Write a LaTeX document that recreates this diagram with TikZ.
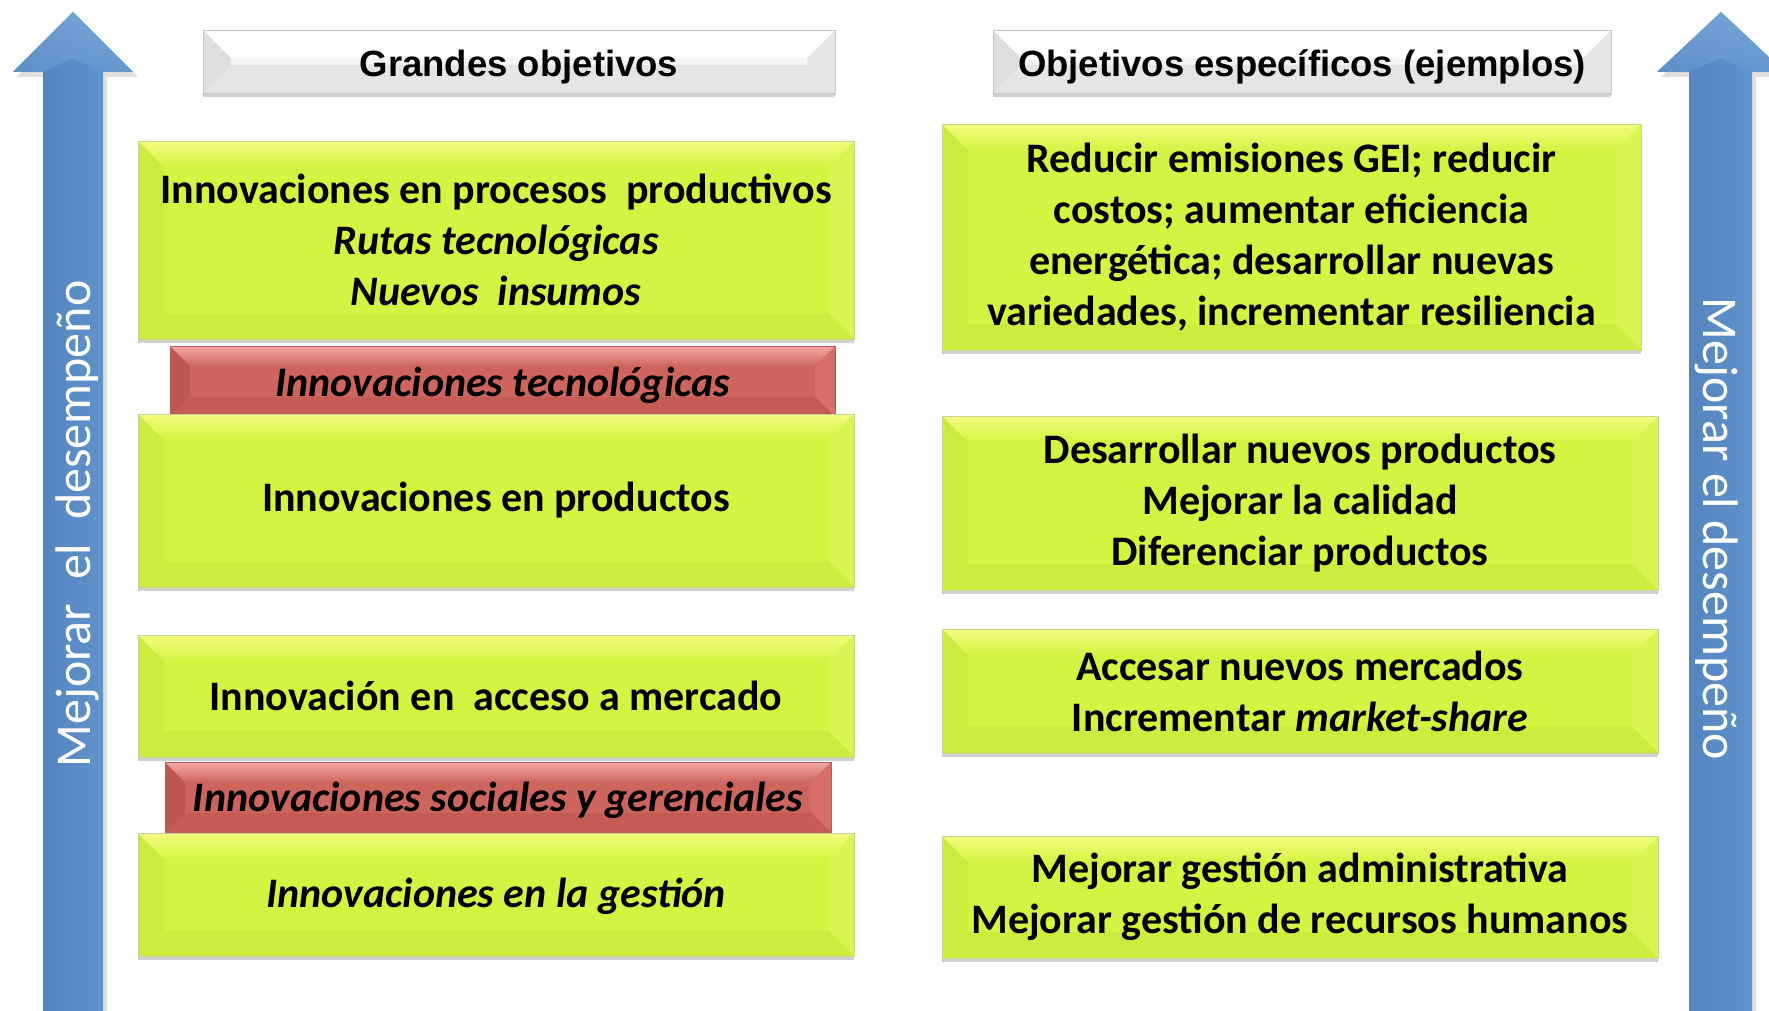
\documentclass[tikz,border=0pt]{standalone}
\usepackage{fontspec}
\setmainfont{Carlito}
\newfontfamily\hdrfont{Liberation Sans}
\usetikzlibrary{shadows}
\definecolor{limeg}{HTML}{D3F443}
\definecolor{limetop}{HTML}{F6FB80}
\definecolor{limeleft}{HTML}{CBEC3E}
\definecolor{limeright}{HTML}{D9F552}
\definecolor{limebot}{HTML}{CCEC3F}
\definecolor{redb}{HTML}{CD645E}
\definecolor{redtop}{HTML}{F7AAA4}
\definecolor{redleft}{HTML}{BC5751}
\definecolor{redright}{HTML}{D66E68}
\definecolor{redbot}{HTML}{C45C56}
\definecolor{arrowdark}{HTML}{4F7EB7}
\definecolor{arrowlight}{HTML}{6699D1}
\definecolor{arrowhi}{HTML}{86B2E0}
\newcommand\ppb{path picture bounding box}
\newcommand\bevelfill[6]{%
  \fill[#3] (\ppb.north west) -- ([xshift=#1,yshift=-#1]\ppb.north west) -- ([xshift=#1,yshift=#1]\ppb.south west) -- (\ppb.south west) -- cycle;
  \fill[#4] (\ppb.north east) -- ([xshift=-#1,yshift=-#1]\ppb.north east) -- ([xshift=-#1,yshift=#1]\ppb.south east) -- (\ppb.south east) -- cycle;
  \fill[#5] (\ppb.south west) -- ([xshift=#1,yshift=#1]\ppb.south west) -- ([xshift=-#1,yshift=#1]\ppb.south east) -- (\ppb.south east) -- cycle;
  \shade[top color=#2, bottom color=#6] (\ppb.north west) -- (\ppb.north east) -- ([xshift=-#1,yshift=-#1]\ppb.north east) -- ([xshift=#1,yshift=-#1]\ppb.north west) -- cycle;
}
\newcommand\lowered[2]{\raisebox{-#1}[28pt][8pt]{#2}}
\tikzset{
  greenbox/.style={draw=limebot!70!black!50, line width=0.6pt, fill=limeg,
    path picture={\bevelfill{26pt}{limetop}{limeleft}{limeright}{limebot}{limeg}},
    drop shadow={shadow xshift=0pt, shadow yshift=-4pt, opacity=0.3, fill=black!60},
    font=\bfseries\fontsize{42}{51}\selectfont, align=center, inner sep=0pt},
  redbox/.style={draw=redleft, line width=0.6pt, fill=redb,
    path picture={\bevelfill{20pt}{redtop}{redleft}{redright}{redbot}{redb}},
    drop shadow={shadow xshift=0pt, shadow yshift=-4pt, opacity=0.3, fill=black!60},
    font=\bfseries\itshape\fontsize{42}{48}\selectfont, align=center, inner sep=0pt},
  hdrbox/.style={draw=black!22, line width=0.6pt, top color=white, bottom color=black!8,
    path picture={\bevelfill{28pt}{white}{black!13}{black!10}{black!10}{white}},
    drop shadow={shadow xshift=0pt, shadow yshift=-4pt, opacity=0.3, fill=black!60},
    font=\hdrfont\bfseries\fontsize{36.5}{42}\selectfont, inner sep=0pt},
  arrowtxt/.style={text=white, font=\fontsize{50}{56}\selectfont, inner sep=0pt}
}
\begin{document}
\begin{tikzpicture}[x=1pt,y=-1pt]
\useasboundingbox (0,0) rectangle (1769,1011);
% arrows
\fill[black!25, opacity=0.5] (73,16) -- (138,77) -- (107,77) -- (107,1011) -- (47,1011) -- (47,77) -- (17,77) -- cycle;
\shade[left color=arrowdark, right color=arrowlight] (73,12) -- (133,72) -- (103,72) -- (103,1011) -- (43,1011) -- (43,72) -- (13,72) -- cycle;
\shade[top color=arrowhi, bottom color=arrowlight, opacity=0.6] (73,12) -- (133,72) -- (103,72) -- (73,58) -- (43,72) -- (13,72) -- cycle;
\fill[black!25, opacity=0.5] (1721,16) -- (1789,77) -- (1756,77) -- (1756,1011) -- (1693,1011) -- (1693,77) -- (1661,77) -- cycle;
\shade[left color=arrowdark, right color=arrowlight] (1721,12) -- (1785,72) -- (1752,72) -- (1752,1011) -- (1689,1011) -- (1689,72) -- (1657,72) -- cycle;
\shade[top color=arrowhi, bottom color=arrowlight, opacity=0.6] (1721,12) -- (1785,72) -- (1752,72) -- (1721,58) -- (1689,72) -- (1657,72) -- cycle;
\node[arrowtxt, rotate=90] (larr) at (77,524) {Mejorar\hspace{0.25em} el\hspace{0.25em} desempeño};
\node[arrowtxt, rotate=-90] (rarr) at (1717,529) {Mejorar el desempeño};
% headers
\node[hdrbox, minimum width=632pt, minimum height=63pt] (h1) at (519,61.5) {\lowered{5pt}{Grandes objetivos}};
\node[hdrbox, minimum width=618pt, minimum height=63pt] (h2) at (1302,61.5) {\lowered{5pt}{Objetivos específicos (ejemplos)}};
% left column
\node[greenbox, minimum width=716pt, minimum height=198pt] (g1) at (496,240)
  {Innovaciones en procesos\ \ productivos\\ \itshape Rutas tecnológicas\\ \itshape Nuevos\ \ insumos};
\node[redbox, minimum width=665pt, minimum height=71pt] (r1) at (502.5,381.5) {\lowered{5pt}{Innovaciones tecnológicas}};
\node[greenbox, minimum width=716pt, minimum height=173pt] (g2) at (496,500.5) {Innovaciones en productos};
\node[greenbox, minimum width=716pt, minimum height=122pt] (g3) at (496,696) {Innovación en\ \ acceso a mercado};
\node[redbox, minimum width=666pt, minimum height=71pt] (r2) at (498,797.5) {\lowered{4pt}{Innovaciones sociales y gerenciales}};
\node[greenbox, minimum width=716pt, minimum height=123pt] (g4) at (496,894.5) {\lowered{3pt}{\itshape Innovaciones en la gestión}};
% right column
\node[greenbox, minimum width=699pt, minimum height=226pt] (s1) at (1291.5,237)
  {Reducir emisiones GEI; reducir\\ costos; aumentar eficiencia\\ energética; desarrollar nuevas\\ variedades, incrementar resiliencia};
\node[greenbox, minimum width=716pt, minimum height=174pt] (s2) at (1300,503)
  {Desarrollar nuevos productos\\ Mejorar la calidad\\ Diferenciar productos};
\node[greenbox, minimum width=716pt, minimum height=124pt] (s3) at (1300,691)
  {Accesar nuevos mercados\\ Incrementar \textit{market-share}};
\node[greenbox, minimum width=716pt, minimum height=122pt] (s4) at (1300,897)
  {Mejorar gestión administrativa\\ Mejorar gestión de recursos humanos};
\end{tikzpicture}
\end{document}
